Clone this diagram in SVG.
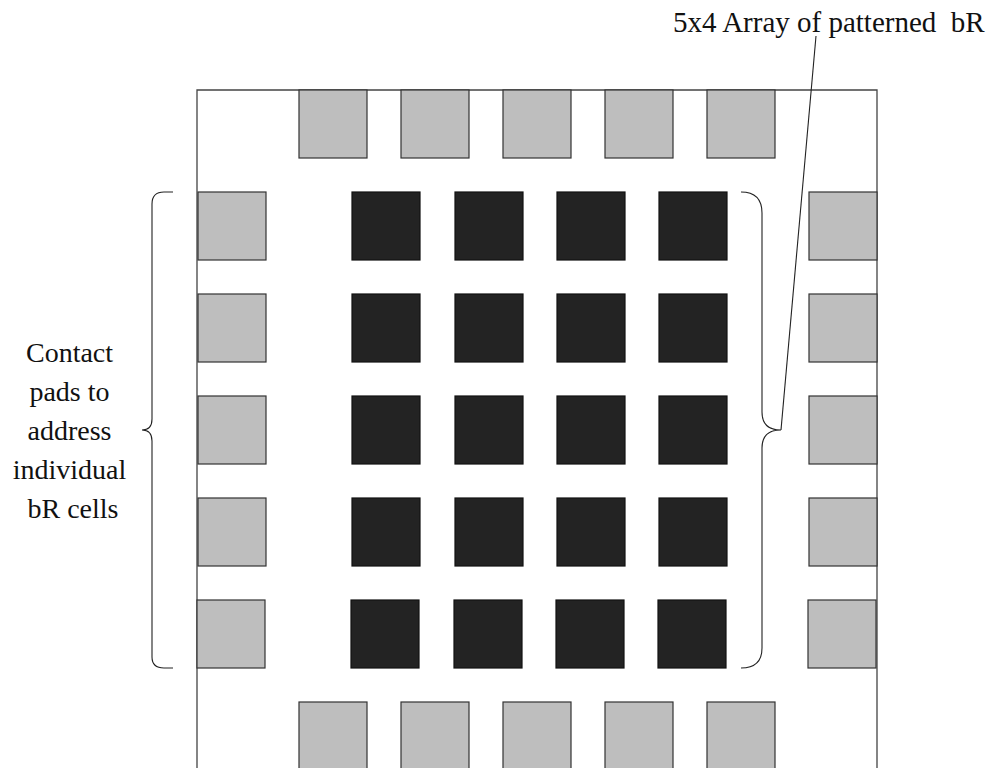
<svg xmlns="http://www.w3.org/2000/svg" width="988" height="768" viewBox="0 0 988 768">
<style>
.pad{fill:#bebebe;stroke:#333;stroke-width:1.2}
.cell{fill:#232323;stroke:#111;stroke-width:1.2}
.frame{fill:none;stroke:#444;stroke-width:1.3}
.brace{fill:none;stroke:#222;stroke-width:1.1}
.lbl{font-family:"Liberation Serif","Times New Roman",serif;font-size:28px;fill:#111}
</style>
<rect width="988" height="768" fill="#fff"/>
<g id="chip">
<path class="frame" d="M197,768 V90 H877 V768"/>
</g>
<g id="top-pads">
<g id="pad-t1"><rect class="pad" x="299" y="90" width="68" height="68"/></g>
<g id="pad-t2"><rect class="pad" x="401" y="90" width="68" height="68"/></g>
<g id="pad-t3"><rect class="pad" x="503" y="90" width="68" height="68"/></g>
<g id="pad-t4"><rect class="pad" x="605" y="90" width="68" height="68"/></g>
<g id="pad-t5"><rect class="pad" x="707" y="90" width="68" height="68"/></g>
</g>
<g id="bottom-pads">
<g id="pad-b1"><rect class="pad" x="299" y="702" width="68" height="80"/></g>
<g id="pad-b2"><rect class="pad" x="401" y="702" width="68" height="80"/></g>
<g id="pad-b3"><rect class="pad" x="503" y="702" width="68" height="80"/></g>
<g id="pad-b4"><rect class="pad" x="605" y="702" width="68" height="80"/></g>
<g id="pad-b5"><rect class="pad" x="707" y="702" width="68" height="80"/></g>
</g>
<g id="left-pads">
<g id="pad-l1"><rect class="pad" x="198" y="192" width="68" height="68"/></g>
<g id="pad-l2"><rect class="pad" x="198" y="294" width="68" height="68"/></g>
<g id="pad-l3"><rect class="pad" x="198" y="396" width="68" height="68"/></g>
<g id="pad-l4"><rect class="pad" x="198" y="498" width="68" height="68"/></g>
<g id="pad-l5"><rect class="pad" x="197" y="600" width="68" height="68"/></g>
</g>
<g id="right-pads">
<g id="pad-r1"><rect class="pad" x="809" y="192" width="68" height="68"/></g>
<g id="pad-r2"><rect class="pad" x="809" y="294" width="68" height="68"/></g>
<g id="pad-r3"><rect class="pad" x="809" y="396" width="68" height="68"/></g>
<g id="pad-r4"><rect class="pad" x="809" y="498" width="68" height="68"/></g>
<g id="pad-r5"><rect class="pad" x="808" y="600" width="68" height="68"/></g>
</g>
<g id="cells">
<g id="cell-1-1"><rect class="cell" x="352" y="192" width="68" height="68"/></g>
<g id="cell-1-2"><rect class="cell" x="455" y="192" width="68" height="68"/></g>
<g id="cell-1-3"><rect class="cell" x="557" y="192" width="68" height="68"/></g>
<g id="cell-1-4"><rect class="cell" x="659" y="192" width="68" height="68"/></g>
<g id="cell-2-1"><rect class="cell" x="352" y="294" width="68" height="68"/></g>
<g id="cell-2-2"><rect class="cell" x="455" y="294" width="68" height="68"/></g>
<g id="cell-2-3"><rect class="cell" x="557" y="294" width="68" height="68"/></g>
<g id="cell-2-4"><rect class="cell" x="659" y="294" width="68" height="68"/></g>
<g id="cell-3-1"><rect class="cell" x="352" y="396" width="68" height="68"/></g>
<g id="cell-3-2"><rect class="cell" x="455" y="396" width="68" height="68"/></g>
<g id="cell-3-3"><rect class="cell" x="557" y="396" width="68" height="68"/></g>
<g id="cell-3-4"><rect class="cell" x="659" y="396" width="68" height="68"/></g>
<g id="cell-4-1"><rect class="cell" x="352" y="498" width="68" height="68"/></g>
<g id="cell-4-2"><rect class="cell" x="455" y="498" width="68" height="68"/></g>
<g id="cell-4-3"><rect class="cell" x="557" y="498" width="68" height="68"/></g>
<g id="cell-4-4"><rect class="cell" x="659" y="498" width="68" height="68"/></g>
<g id="cell-5-1"><rect class="cell" x="351" y="600" width="68" height="68"/></g>
<g id="cell-5-2"><rect class="cell" x="454" y="600" width="68" height="68"/></g>
<g id="cell-5-3"><rect class="cell" x="556" y="600" width="68" height="68"/></g>
<g id="cell-5-4"><rect class="cell" x="658" y="600" width="68" height="68"/></g>
</g>
<g id="connectors">
<path class="brace" d="M173,192 H164 Q152,192 152,204 V419 Q152,430 142,430 Q152,430 152,441 V657 Q152,668 164,668 H173"/>
<path class="brace" d="M741,192 Q762,192 762,213 V412 Q762,430 781,430 Q762,430 762,448 V648 Q762,668 741,668"/>
<line class="brace" x1="781" y1="430" x2="816" y2="36"/>
</g>
<g id="labels">
<text class="lbl" x="673" y="32" style="font-size:29px;white-space:pre" xml:space="preserve">5x4 Array of patterned  bR</text>
<text class="lbl" text-anchor="middle">
<tspan x="73" y="362">Contact</tspan>
<tspan x="73" y="401">pads to</tspan>
<tspan x="73" y="440">address</tspan>
<tspan x="73" y="479">individual</tspan>
<tspan x="73" y="518">bR cells</tspan>
</text>
</g>
</svg>
